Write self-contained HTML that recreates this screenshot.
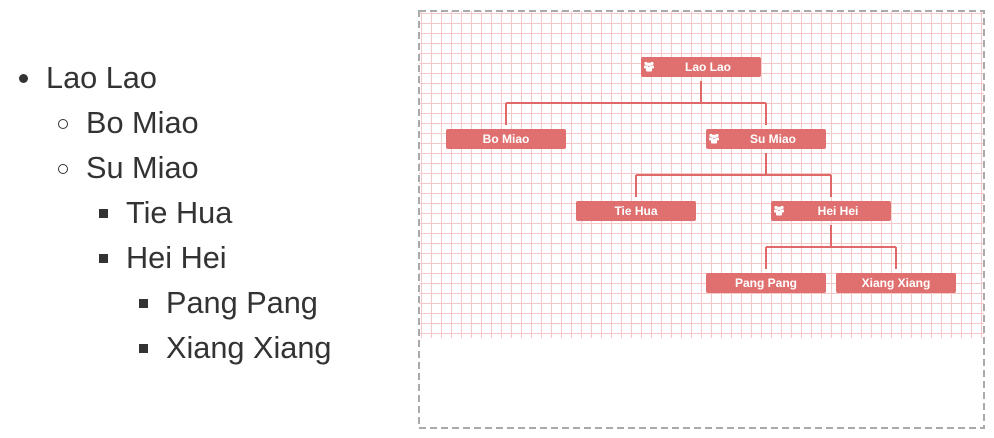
<!DOCTYPE html>
<html><head><meta charset="utf-8"><style>
body{margin:0;width:994px;height:438px;background:#fff;overflow:hidden;position:relative;font-family:"Liberation Sans",sans-serif}
.t{position:absolute;font-size:30.7px;color:#333;line-height:1;white-space:nowrap}
.b{position:absolute}
.grid{position:absolute;left:419px;top:11px;width:565px;height:327px;
background-image:linear-gradient(to right,#f4c8c8 1px,transparent 1px),linear-gradient(to bottom,#f4c8c8 1px,transparent 1px);
background-size:10px 10px;background-position:2px 2px}
</style></head><body>
<div class="grid"></div>
<div class="b" style="left:19px;top:74px;width:9px;height:9px;border-radius:50%;background:#333"></div>
<div class="t" style="left:46px;top:63px">Lao Lao</div>
<div class="b" style="left:58px;top:119px;width:10px;height:10px;border-radius:50%;border:1.3px solid #333;box-sizing:border-box"></div>
<div class="t" style="left:86px;top:108px">Bo Miao</div>
<div class="b" style="left:58px;top:164px;width:10px;height:10px;border-radius:50%;border:1.3px solid #333;box-sizing:border-box"></div>
<div class="t" style="left:86px;top:153px">Su Miao</div>
<div class="b" style="left:99px;top:209px;width:9px;height:9px;background:#333"></div>
<div class="t" style="left:126px;top:198px">Tie Hua</div>
<div class="b" style="left:99px;top:254px;width:9px;height:9px;background:#333"></div>
<div class="t" style="left:126px;top:243px">Hei Hei</div>
<div class="b" style="left:139px;top:299px;width:9px;height:9px;background:#333"></div>
<div class="t" style="left:166px;top:288px">Pang Pang</div>
<div class="b" style="left:139px;top:344px;width:9px;height:9px;background:#333"></div>
<div class="t" style="left:166px;top:333px">Xiang Xiang</div>
<svg class="b" style="left:0;top:0" width="994" height="438">
<defs>
<g id="ic" fill="#fff"><circle cx="3" cy="2.5" r="1.6"/><circle cx="9" cy="2.5" r="1.6"/><circle cx="6" cy="3.5" r="1.9"/><rect x="1" y="4.5" width="4" height="3" rx="1"/><rect x="7" y="4.5" width="4" height="3" rx="1"/><rect x="3" y="6" width="6" height="4.5" rx="1"/></g></defs>
<rect x="419" y="11" width="565" height="417" fill="none" stroke="#aaa" stroke-width="2" stroke-dasharray="7,4"/>
<g stroke="#e06868" stroke-width="2" fill="none">
<path d="M701 81V103M506 103H766M506 103V125M766 103V125"/>
<path d="M766 153V175M636 175H831M636 175V197M831 175V197"/>
<path d="M831 225V247M766 247H896M766 247V269M896 247V269"/>
</g>
<g fill="#e07070">
<rect x="641" y="57" width="120" height="20" rx="2"/>
<rect x="446" y="129" width="120" height="20" rx="2"/>
<rect x="706" y="129" width="120" height="20" rx="2"/>
<rect x="576" y="201" width="120" height="20" rx="2"/>
<rect x="771" y="201" width="120" height="20" rx="2"/>
<rect x="706" y="273" width="120" height="20" rx="2"/>
<rect x="836" y="273" width="120" height="20" rx="2"/>
</g>
<use href="#ic" x="643" y="61"/><use href="#ic" x="708" y="133"/><use href="#ic" x="773" y="205"/>
<g fill="#fff" font-family="Liberation Sans,sans-serif" font-size="12" font-weight="bold" text-anchor="middle">
<text x="708" y="71">Lao Lao</text>
<text x="506" y="143">Bo Miao</text>
<text x="773" y="143">Su Miao</text>
<text x="636" y="215">Tie Hua</text>
<text x="838" y="215">Hei Hei</text>
<text x="766" y="287">Pang Pang</text>
<text x="896" y="287">Xiang Xiang</text>
</g>
</svg>
</body></html>
